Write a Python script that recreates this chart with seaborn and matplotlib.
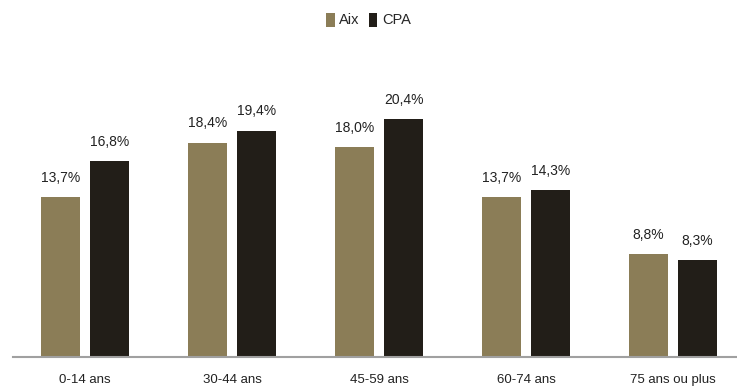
import matplotlib
matplotlib.use("Agg")
import matplotlib.pyplot as plt
import seaborn as sns
import pandas as pd
from matplotlib import font_manager

# données (part de la population par tranche d'âge, en %)
age_groups = ["0-14 ans", "30-44 ans", "45-59 ans", "60-74 ans", "75 ans ou plus"]
aix_values = [13.7, 18.4, 18.0, 13.7, 8.8]
cpa_values = [16.8, 19.4, 20.4, 14.3, 8.3]
series_names = ["Aix", "CPA"]
colors = ["#8b7d57", "#221e18"]

sns.set_theme(style="white")
available = {f.name for f in font_manager.fontManager.ttflist}
family = "Liberation Sans Narrow" if "Liberation Sans Narrow" in available else "Liberation Sans"
plt.rcParams["font.family"] = [family, "DejaVu Sans"]

df = pd.DataFrame({
    "age": age_groups * 2,
    "value": aix_values + cpa_values,
    "zone": [series_names[0]] * len(age_groups) + [series_names[1]] * len(age_groups),
})

fig = plt.figure(figsize=(7.37, 3.87), dpi=100)
ax = fig.add_axes([13 / 737, 30 / 387, 724 / 737, 327 / 387])

sns.barplot(
    data=df, x="age", y="value", hue="zone", hue_order=series_names,
    palette=colors, width=0.667, gap=0.2, saturation=1, linewidth=0, ax=ax,
)

for container, vals in zip(ax.containers, [aix_values, cpa_values]):
    labels = [f"{v:.1f}%".replace(".", ",") for v in vals]
    ax.bar_label(container, labels=labels, padding=9, fontsize=10, color="#222222")

ax.set_xlim(-0.49, 4.435)
ax.set_ylim(0, 327 / 11.65)
ax.set_xlabel("")
ax.set_ylabel("")
ax.set_yticks([])
ax.tick_params(axis="x", length=0, pad=12, labelsize=9.5, labelcolor="#222222")
for side in ["top", "right", "left"]:
    ax.spines[side].set_visible(False)
ax.spines["bottom"].set_color("#a0a0a0")
ax.spines["bottom"].set_linewidth(1.5)

ax.legend_.remove()
handles, labs = ax.get_legend_handles_labels()
fig.legend(
    handles, labs, loc="center", bbox_to_anchor=(0.5, 1 - 20 / 387), ncol=2,
    frameon=False, fontsize=10.5, handlelength=0.6, handleheight=1.1,
    handletextpad=0.3, columnspacing=0.6,
)

fig.savefig("out.png", dpi=100)
